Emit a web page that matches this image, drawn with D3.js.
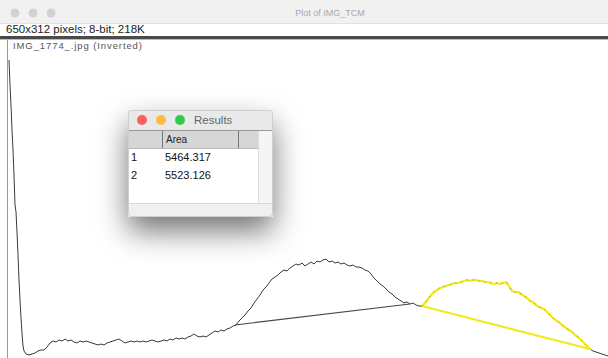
<!DOCTYPE html>
<html>
<head>
<meta charset="utf-8">
<script src="https://cdn.jsdelivr.net/npm/d3@7"></script>
<style>
  html, body { margin: 0; padding: 0; background: #fff; }
  svg { display: block; }
</style>
</head>
<body>
<script>
// Line profile: distance along the selection (px) and intensity
const distance = [0,1,2,3,4,5,6,7,8,9,10,11,12,13,14,15,
  17,20,23,26,29,32,35,38,41,44,47,50,53,56,59,62,65,68,71,74,77,80,83,86,89,92,95,98,101,104,
  107,110,113,116,119,122,125,128,131,134,137,140,143,146,149,152,155,158,161,164,167,170,173,176,
  179,182,185,188,191,194,197,200,203,206,209,212,215,218,221,224,227,230,233,236,239,242,245,248,
  251,254,257,260,263,266,269,272,275,278,281,284,287,290,293,296,299,302,305,308,311,314,317,320,
  323,326,329,332,335,338,341,344,347,350,353,356,359,362,365,368,371,374,377,380,383,386,389,392,
  395,398,401,404,407,410,413,416,419,422,425,428,431,434,437,440,443,446,449,452,455,458,461,464,
  467,470,473,476,479,482,485,488,491,494,497,500,503,506,509,512,515,518,521,524,527,530,533,536,
  539,542,545,548,551,554,557,560,563,566,569,572,575,578,581,584,587,590,593,596,599];
const intensity = [300,275,255,230,210,185,155,148,128,105,80,60,42,27,14,9,
  6,5,6,7,9,10,10,13,17,19,18,20,19,21,19,20,18,17,19,18,19,18,17,16,15,16,15,17,18,19,
  20,21,19,17,18,19,18,19,18,19,18,19,20,19,18,19,20,19,21,20,22,21,22,21,23,24,26,24,23,24,
  23,25,27,29,28,30,29,31,32,34,35,39,42,45,49,52,57,61,65,70,73,77,81,83,85,88,90,89,92,94,
  96,95,97,94,96,98,96,99,98,100,101,98,99,97,98,96,97,95,94,95,93,93,92,90,89,86,82,79,76,74,
  71,68,66,63,61,59,57,58,56,57,55,54,54,57,61,65,68,70,72,73,74,75,76,77,77,78,79,80,79,80,
  80,79,79,78,78,77,76,77,76,77,78,74,69,68,68,66,64,62,59,58,55,53,52,50,47,44,41,39,37,34,
  32,30,28,25,23,20,17,14,11,9,8,7,6,5,4];

// Baselines closing each peak: [distance, intensity] endpoints
const baselinePeak1 = [[226, 35], [401, 56]];
const baselinePeak2 = [[413, 54], [581, 11]];
// Range of the selected (highlighted) peak
const peak2Range = [413, 581];

// Measurement table
const resultHeaders = ["", "Area"];
const resultRows = ["1", "2"];
const resultAreas = ["5464.317", "5523.126"];

const W = 608, H = 358;
const svg = d3.select("body").append("svg").attr("width", W).attr("height", H);

const defs = svg.append("defs");
const shadow = defs.append("filter").attr("id", "winShadow")
  .attr("x", "-60%").attr("y", "-60%").attr("width", "220%").attr("height", "240%");
shadow.append("feDropShadow").attr("dx", 0).attr("dy", 14)
  .attr("stdDeviation", 15).attr("flood-color", "#000").attr("flood-opacity", 0.55);

const ui = "'Liberation Sans', Arial, sans-serif";

// Plot window title bar
svg.append("rect").attr("x", 0).attr("y", 0).attr("width", W).attr("height", 23).attr("fill", "#f1f1f1");
svg.append("line").attr("x1", 0).attr("x2", W).attr("y1", 23.5).attr("y2", 23.5).attr("stroke", "#e2e2e2");
[15, 33, 51].forEach(cx => svg.append("circle").attr("cx", cx).attr("cy", 13).attr("r", 4.5).attr("fill", "#d2d2d2"));
svg.append("text").attr("x", 330).attr("y", 16).attr("text-anchor", "middle")
  .attr("font-family", ui).attr("font-size", 9).attr("fill", "#a8a8a8").text("Plot of IMG_TCM");

// Image info line
svg.append("text").attr("x", 6).attr("y", 33).attr("font-family", ui).attr("font-size", 11.5)
  .attr("fill", "#222").text("650x312 pixels; 8-bit; 218K");
svg.append("rect").attr("x", 0).attr("y", 36).attr("width", W).attr("height", 3).attr("fill", "#4a4a4a");
svg.append("line").attr("x1", 0).attr("x2", W).attr("y1", 39.5).attr("y2", 39.5).attr("stroke", "#bbb");

// Plot frame and label
svg.append("line").attr("x1", 7.5).attr("x2", 7.5).attr("y1", 40).attr("y2", H).attr("stroke", "#9a9a9a");
svg.append("text").attr("x", 13).attr("y", 49).attr("font-family", ui).attr("font-size", 9.5)
  .attr("letter-spacing", 0.9).attr("fill", "#555").text("IMG_1774_.jpg (Inverted)");

const x = d3.scaleLinear().domain([0, 600]).range([9, 609]);
const y = d3.scaleLinear().domain([0, 300]).range([360, 60]);

const profile = distance.map((d, i) => [d, intensity[i]]);
const line = d3.line().x(d => x(d[0])).y(d => y(d[1]));

// Profile trace
svg.append("path").datum(profile).attr("d", line)
  .attr("fill", "none").attr("stroke", "#3a3a3a").attr("stroke-width", 1);

// First peak baseline
svg.append("path").datum(baselinePeak1).attr("d", line)
  .attr("fill", "none").attr("stroke", "#484848").attr("stroke-width", 1.2);

// Selected second peak outline (yellow)
const peak2 = profile.filter(p => p[0] >= peak2Range[0] && p[0] <= peak2Range[1]);
svg.append("path").datum(peak2.concat([baselinePeak2[1], baselinePeak2[0]])).attr("d", line)
  .attr("fill", "none").attr("stroke", "#f3ea1a").attr("stroke-width", 2.2)
  .attr("stroke-linejoin", "round");
svg.append("path").datum(peak2).attr("d", line)
  .attr("fill", "none").attr("stroke", "#555").attr("stroke-width", 0.8)
  .attr("stroke-dasharray", "1,5").attr("opacity", 0.8);

// Results window
const rw = { x: 128, y: 110, w: 145, h: 107 };
const win = svg.append("g");
win.append("rect").attr("x", rw.x).attr("y", rw.y).attr("width", rw.w).attr("height", rw.h)
  .attr("rx", 3).attr("fill", "#fff").attr("filter", "url(#winShadow)");
win.append("rect").attr("x", rw.x).attr("y", rw.y).attr("width", rw.w).attr("height", 20)
  .attr("fill", "#e9e9e9");
[["#fc605c", 142], ["#fdbc40", 161], ["#34c84a", 180]].forEach(([c, cx]) =>
  win.append("circle").attr("cx", cx).attr("cy", rw.y + 10).attr("r", 5).attr("fill", c));
win.append("text").attr("x", 194).attr("y", rw.y + 14).attr("font-family", ui).attr("font-size", 11.5)
  .attr("fill", "#666").text("Results");

// Header row
win.append("rect").attr("x", rw.x).attr("y", 130).attr("width", 130).attr("height", 18).attr("fill", "#d6d6d6");
win.append("line").attr("x1", rw.x).attr("x2", rw.x + rw.w).attr("y1", 130.5).attr("y2", 130.5).attr("stroke", "#999");
win.append("line").attr("x1", rw.x).attr("x2", 258).attr("y1", 148.5).attr("y2", 148.5).attr("stroke", "#bbb");
[162.5, 238.5].forEach(lx => win.append("line").attr("x1", lx).attr("x2", lx)
  .attr("y1", 131).attr("y2", 148).attr("stroke", "#777"));
win.append("text").attr("x", 166).attr("y", 143).attr("font-family", ui).attr("font-size", 10)
  .attr("fill", "#222").text(resultHeaders[1]);

// Vertical scroll area and bottom strip
win.append("rect").attr("x", 258).attr("y", 131).attr("width", 15).attr("height", 72).attr("fill", "#f5f5f5");
win.append("line").attr("x1", 258.5).attr("x2", 258.5).attr("y1", 131).attr("y2", 203).attr("stroke", "#ddd");
win.append("rect").attr("x", rw.x).attr("y", 203).attr("width", rw.w).attr("height", 14).attr("fill", "#f0f0f0");
win.append("line").attr("x1", rw.x).attr("x2", rw.x + rw.w).attr("y1", 203.5).attr("y2", 203.5).attr("stroke", "#d8d8d8");

resultRows.forEach((r, i) => {
  const ty = 161 + i * 18;
  win.append("text").attr("x", 131).attr("y", ty).attr("font-family", ui).attr("font-size", 11)
    .attr("fill", "#111").text(r);
  win.append("text").attr("x", 165).attr("y", ty).attr("font-family", ui).attr("font-size", 11)
    .attr("fill", "#111").text(resultAreas[i]);
});
win.append("rect").attr("x", rw.x + 0.5).attr("y", rw.y + 0.5).attr("width", rw.w - 1).attr("height", rw.h - 1)
  .attr("rx", 3).attr("fill", "none").attr("stroke", "#cfcfcf");
</script>
</body>
</html>
